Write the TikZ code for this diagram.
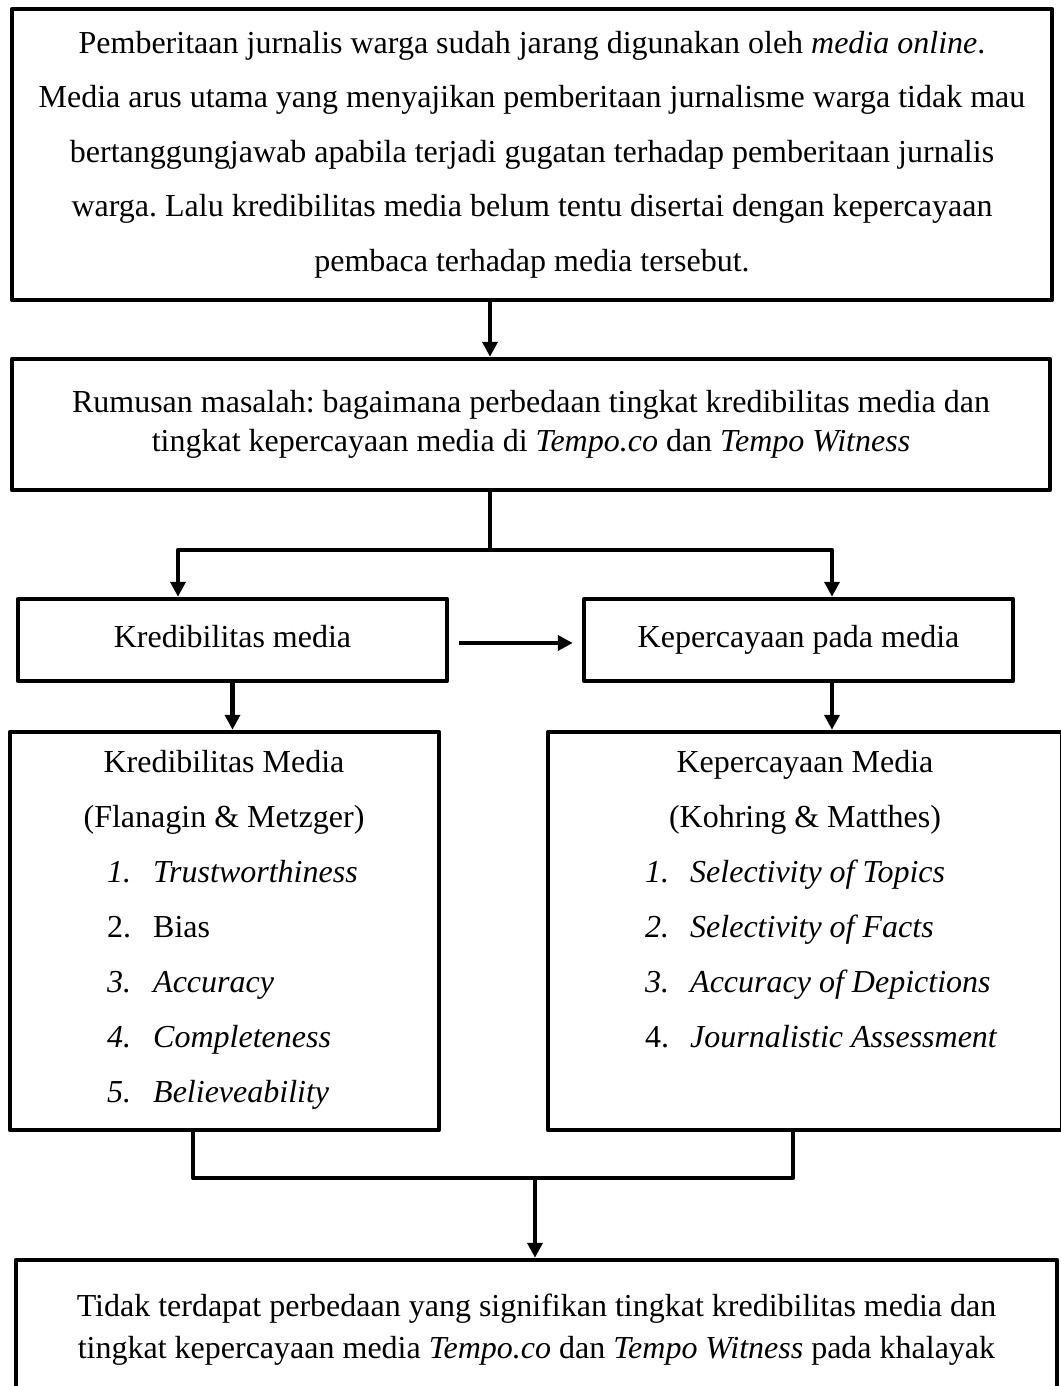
\documentclass[tikz,border=0pt]{standalone}
\usepackage{fontspec}
\setmainfont{Liberation Serif}
\usetikzlibrary{arrows.meta}
\frenchspacing
\begin{document}
\frenchspacing
\begin{tikzpicture}[x=1bp,y=-1bp,
  every node/.style={font=\fontsize{32bp}{54.5bp}\selectfont\frenchspacing, inner sep=0pt},
  box/.style={draw, line width=4.5bp, align=center, line join=round},
  ln/.style={line width=4.5bp, line join=round},
  arr/.style={ln, -{Triangle[length=15bp,width=15bp]}},
  txt/.style={anchor=base west}]
\useasboundingbox[fill=white] (0,0) rectangle (1060,1386);

% boxes
\node[box, minimum width=1040bp, minimum height=291bp] (top) at (532,154.5)
 {Pemberitaan jurnalis warga sudah jarang digunakan oleh \textit{media online}.\\
  Media arus utama yang menyajikan pemberitaan jurnalisme warga tidak mau\\
  bertanggungjawab apabila terjadi gugatan terhadap pemberitaan jurnalis\\
  warga. Lalu kredibilitas media belum tentu disertai dengan kepercayaan\\
  pembaca terhadap media tersebut.};
\node[box, minimum width=1038bp, minimum height=131bp, font=\fontsize{32bp}{39bp}\selectfont\frenchspacing] (rum) at (531,424.5)
 {Rumusan masalah: bagaimana perbedaan tingkat kredibilitas media dan\\
  tingkat kepercayaan media di \textit{Tempo.co} dan \textit{Tempo Witness}};
\node[box, minimum width=429bp, minimum height=82bp] (km) at (232.5,640) {};
\node[anchor=base] (kmt) at (km.center |- 0,647) {Kredibilitas media};
\node[box, minimum width=429bp, minimum height=82bp] (kpm) at (798.5,640) {};
\node[anchor=base] (kpmt) at (kpm.center |- 0,647) {Kepercayaan pada media};
\node[box, minimum width=429bp, minimum height=398bp] (lb) at (224.5,931) {};
\node[box, minimum width=514bp, minimum height=398bp] (rb) at (805,931) {};
\node[box, minimum width=1041bp, minimum height=140bp, font=\fontsize{32bp}{42bp}\selectfont\frenchspacing] (fin) at (536.5,1330)
 {Tidak terdapat perbedaan yang signifikan tingkat kredibilitas media dan\\
  tingkat kepercayaan media \textit{Tempo.co} dan \textit{Tempo Witness} pada khalayak};

% left list
\node[anchor=base] (l0) at (224,772) {Kredibilitas Media};
\node[anchor=base] (l00) at (224,827) {(Flanagin \& Metzger)};
\node[txt] (ln1) at (107,882) {\textit{1.}};
\node[txt] (lt1) at (153,882) {\textit{Trustworthiness}};
\node[txt] (ln2) at (107,937) {2.};
\node[txt] (lt2) at (153,937) {Bias};
\node[txt] (ln3) at (107,992) {\textit{3.}};
\node[txt] (lt3) at (153,992) {\textit{Accuracy}};
\node[txt] (ln4) at (107,1047) {\textit{4.}};
\node[txt] (lt4) at (153,1047) {\textit{Completeness}};
\node[txt] (ln5) at (107,1102) {\textit{5.}};
\node[txt] (lt5) at (153,1102) {\textit{Believeability}};

% right list
\node[anchor=base] (r0) at (805,772) {Kepercayaan Media};
\node[anchor=base] (r00) at (805,827) {(Kohring \& Matthes)};
\node[txt] (rn1) at (645,882) {\textit{1.}};
\node[txt] (rt1) at (690,882) {\textit{Selectivity of Topics}};
\node[txt] (rn2) at (645,937) {\textit{2.}};
\node[txt] (rt2) at (690,937) {\textit{Selectivity of Facts}};
\node[txt] (rn3) at (645,992) {\textit{3.}};
\node[txt] (rt3) at (690,992) {\textit{Accuracy of Depictions}};
\node[txt] (rn4) at (645,1047) {4.};
\node[txt] (rt4) at (690,1047) {\textit{Journalistic Assessment}};

% connectors
\coordinate (c1) at (490,0);
\coordinate (sp) at (490,550);
\coordinate (spL) at (178,550);
\coordinate (spR) at (832,550);
\coordinate (mL) at (193,1178);
\coordinate (mR) at (793,1178);
\coordinate (mC) at (535,1178);

\draw[arr] (c1 |- top.south) -- (c1 |- rum.north);
\draw[ln] (c1 |- rum.south) -- (sp);
\draw[arr] (spR) -- (sp) -- (spL) -- (spL |- km.north);
\draw[arr] (sp) -- (spR) -- (spR |- kpm.north);
\draw[arr, shorten <=10bp, shorten >=9bp] (km.east |- 0,643) -- (kpm.west |- 0,643);
\draw[arr] (km.south) -- (km.south |- lb.north);
\draw[arr] (spR |- kpm.south) -- (spR |- rb.north);
\draw[ln] (mL |- lb.south) -- (mL) -- (mR) -- (mR |- rb.south);
\draw[arr] (mC) -- (mC |- fin.north);
\end{tikzpicture}
\end{document}
